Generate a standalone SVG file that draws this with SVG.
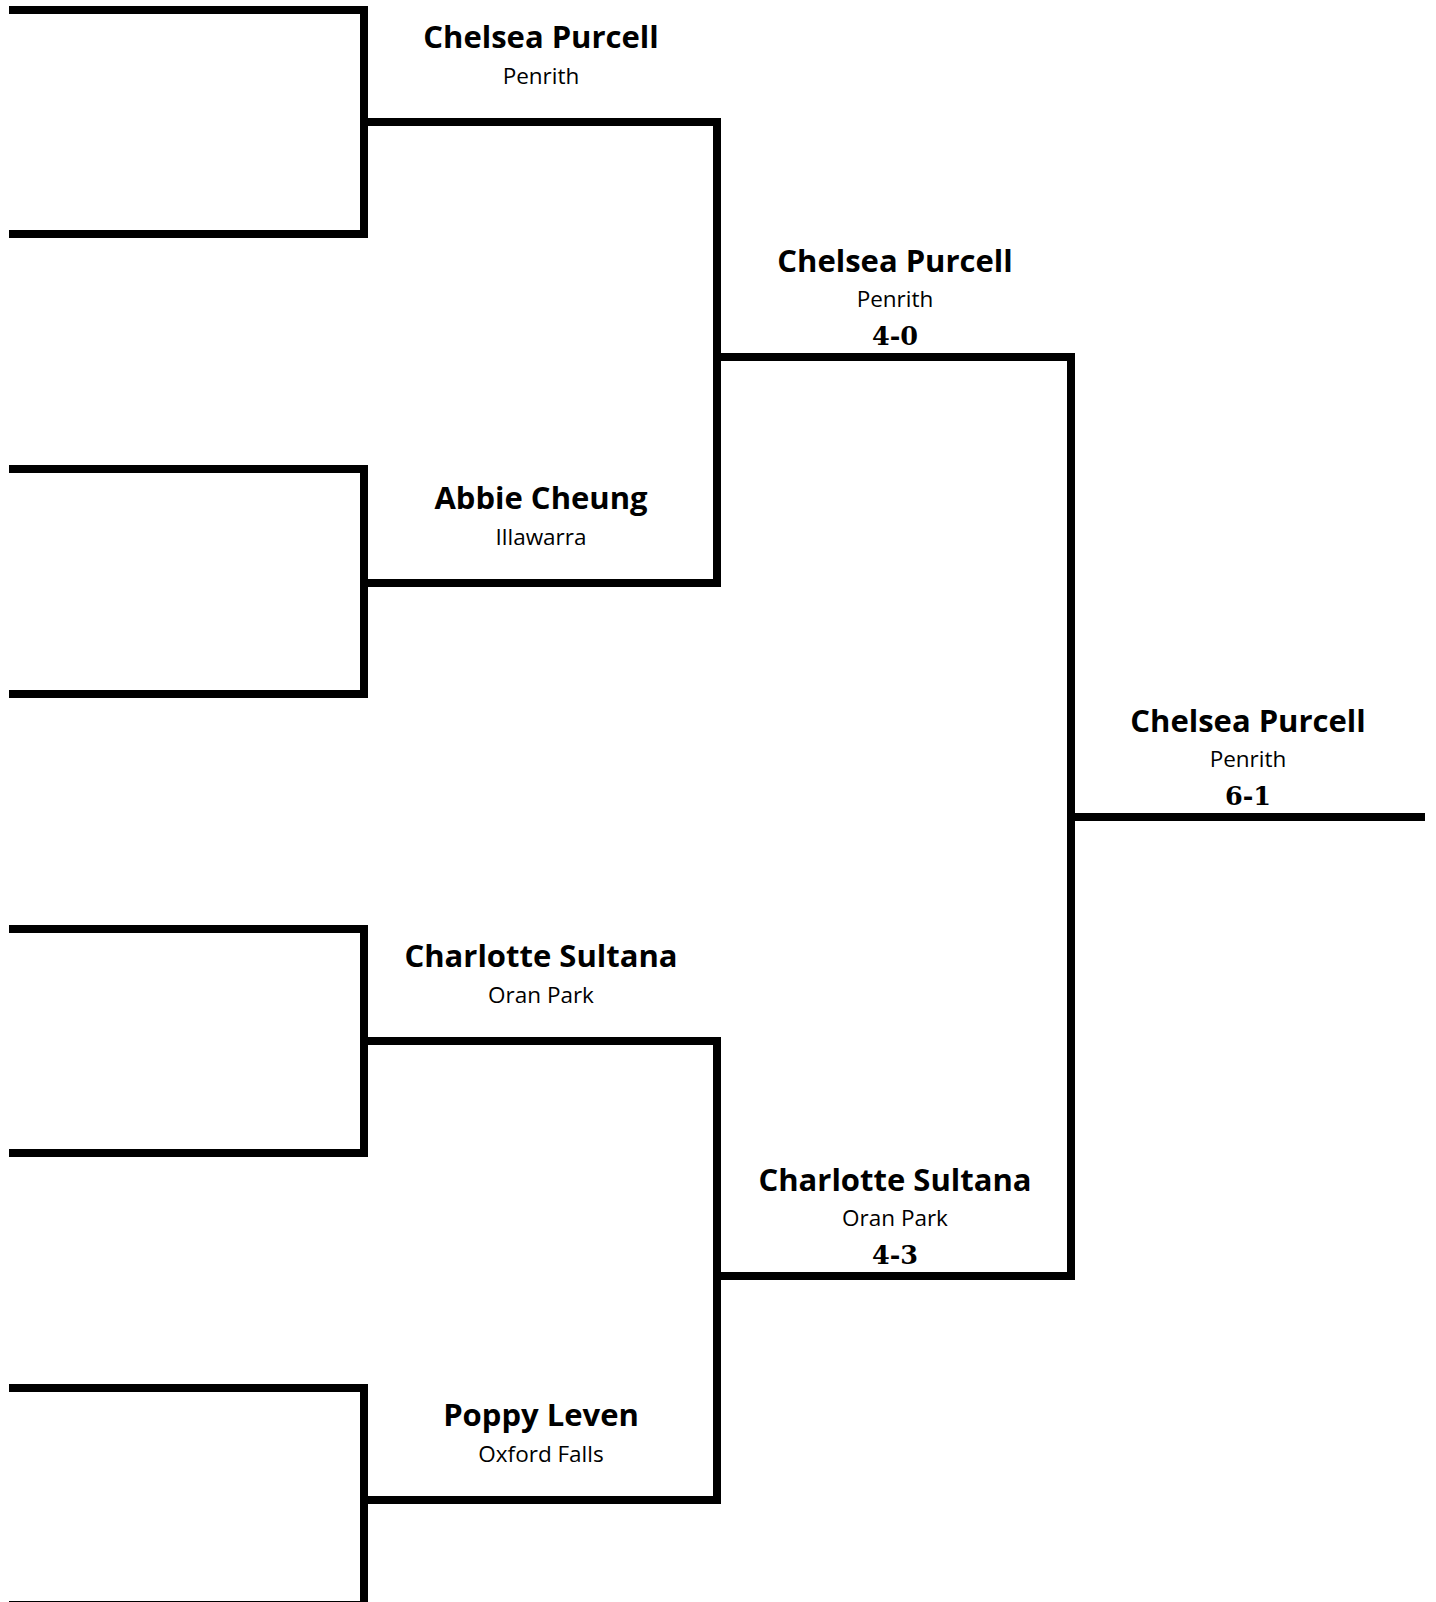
<svg xmlns="http://www.w3.org/2000/svg" width="1436" height="1602" viewBox="0 0 1436 1602">
<style>
.ln{fill:none;stroke:#000;stroke-width:8;stroke-linejoin:miter;stroke-linecap:butt}
.nm{font-family:"Open Sans","Liberation Sans",sans-serif;font-weight:700;font-size:31px;fill:#000;text-anchor:middle}
.tm{font-family:"Open Sans","Liberation Sans",sans-serif;font-weight:400;font-size:22.5px;fill:#000;text-anchor:middle}
.sc{font-family:"DejaVu Serif","Liberation Serif",serif;font-weight:700;font-size:25.5px;fill:#000;text-anchor:middle}
</style>
<rect width="1436" height="1602" fill="#fff"/>
<g id="connectors">
<path class="ln" d="M9 10 H364 V234 H9"/>
<path class="ln" d="M9 469 H364 V694 H9"/>
<path class="ln" d="M9 929 H364 V1153 H9"/>
<path class="ln" d="M9 1388 H364 V1605 H9"/>
<path class="ln" d="M364 122 H717 V583 H364"/>
<path class="ln" d="M364 1041 H717 V1500 H364"/>
<path class="ln" d="M717 357 H1071 V1276 H717"/>
<path class="ln" d="M1071 817 H1425"/>
</g>
<g id="r1-purcell">
<text class="nm" x="541" y="48">Chelsea Purcell</text>
<text class="tm" x="541" y="84">Penrith</text>
</g>
<g id="r1-cheung">
<text class="nm" x="541" y="509">Abbie Cheung</text>
<text class="tm" x="541" y="545">Illawarra</text>
</g>
<g id="r1-sultana">
<text class="nm" x="541" y="967">Charlotte Sultana</text>
<text class="tm" x="541" y="1003">Oran Park</text>
</g>
<g id="r1-leven">
<text class="nm" x="541" y="1426">Poppy Leven</text>
<text class="tm" x="541" y="1462">Oxford Falls</text>
</g>
<g id="r2-purcell">
<text class="nm" x="895" y="272">Chelsea Purcell</text>
<text class="tm" x="895" y="307">Penrith</text>
<text class="sc" x="895" y="345">4-0</text>
</g>
<g id="r2-sultana">
<text class="nm" x="895" y="1191">Charlotte Sultana</text>
<text class="tm" x="895" y="1226">Oran Park</text>
<text class="sc" x="895" y="1264">4-3</text>
</g>
<g id="final-purcell">
<text class="nm" x="1248" y="732">Chelsea Purcell</text>
<text class="tm" x="1248" y="767">Penrith</text>
<text class="sc" x="1248" y="805">6-1</text>
</g>
</svg>
